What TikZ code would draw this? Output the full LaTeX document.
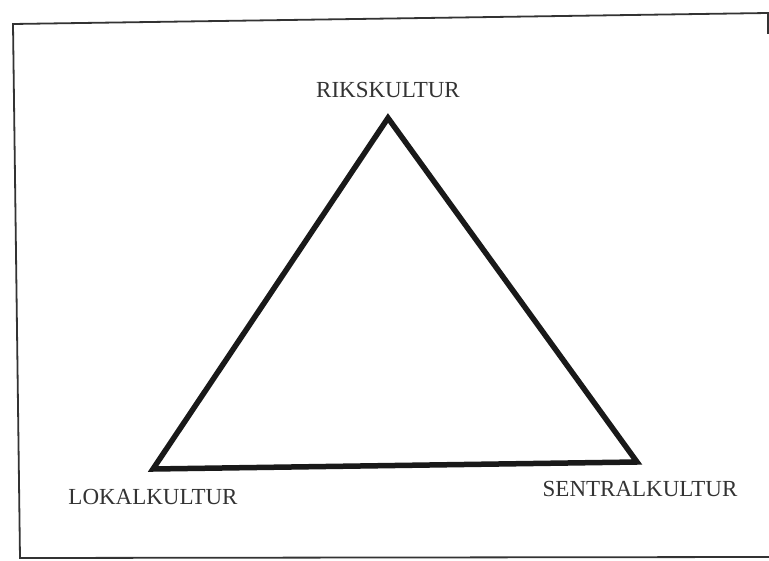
\documentclass[tikz,border=0pt]{standalone}
\usepackage{fontspec}
\setmainfont{Liberation Serif}
\usepackage{tikz}
\usetikzlibrary{positioning}
\tikzstyle{frame} = [draw=black!80, line width=1.8pt]
\tikzstyle{edge} = [draw=black!90, line width=5.5pt, line join=miter]
\tikzstyle{culture} = [inner sep=0pt, text=black!80, font=\fontsize{23}{27}\selectfont]

\begin{document}
\begin{tikzpicture}[x=1pt, y=-1pt]
    \useasboundingbox (0,0) rectangle (769,561);

    % Ramme rundt figuren (hoyre side er borte i skannen)
    \draw [frame] (768,34) -- (768,13) -- (13,24) -- (20,558) -- (769,557);

    % Hjornene i trekanten
    \coordinate (riks) at (388,118);
    \coordinate (lokal) at (153,469);
    \coordinate (sentral) at (637,462);

    % Trekanten
    \draw [edge] (riks) -- (sentral) -- (lokal) -- cycle;

    % Navn ved hjornene
    \node (rikslbl) [culture, above=20pt of riks] {RIKSKULTUR};
    \node (lokallbl) [culture, below=20pt of lokal] {LOKALKULTUR};
    \node (sentrallbl) [culture, below=19pt of sentral, xshift=3pt] {SENTRALKULTUR};

\end{tikzpicture}
\end{document}
